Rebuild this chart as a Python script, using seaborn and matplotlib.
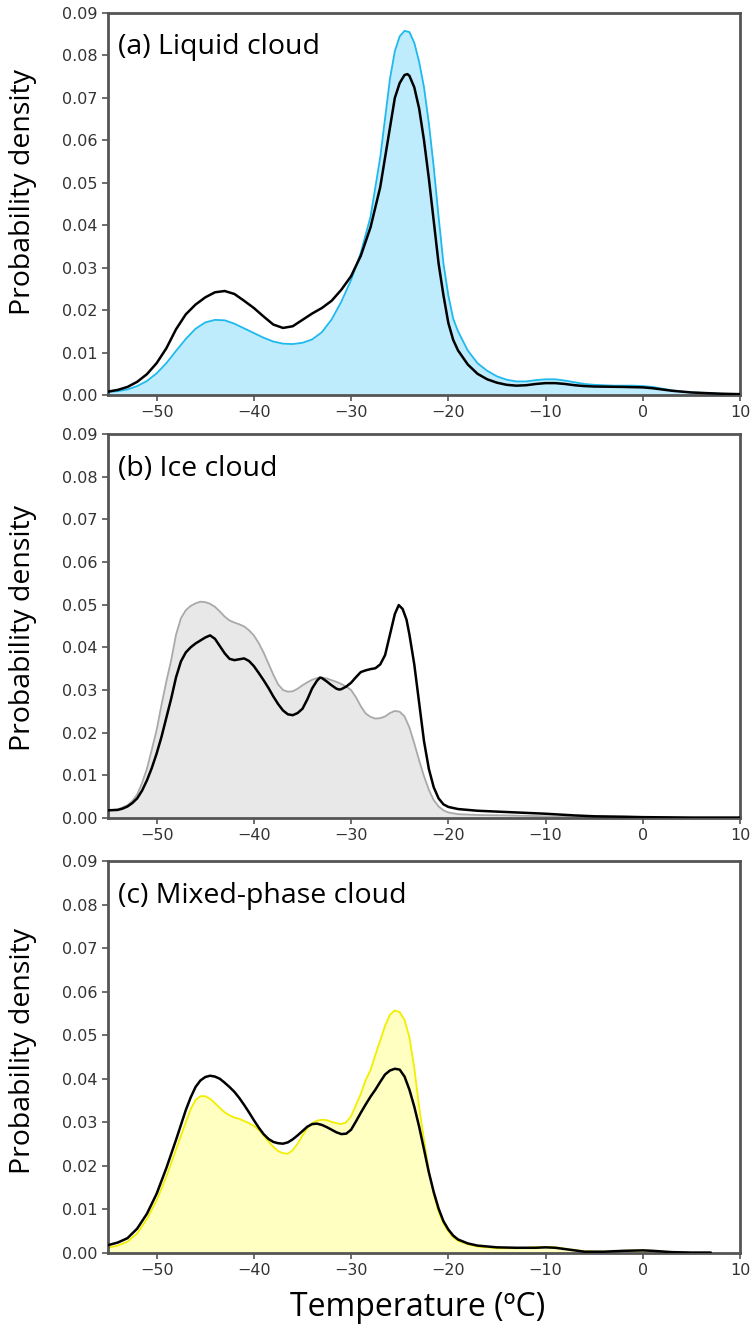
import numpy as np
import pandas as pd
import matplotlib
matplotlib.use("Agg")
import matplotlib.pyplot as plt
import seaborn as sns

# ---------------- data ----------------
# (a) Liquid cloud -- filled curve
liq_fill_T = [-55, -54, -53, -52, -51, -50, -49, -48, -47, -46, -45, -44, -43, -42, -41, -40, -39, -38, -37, -36,
              -35, -34, -33, -32, -31, -30, -29, -28, -27, -26, -25.5, -25, -24.5, -24, -23.5, -23, -22.5, -22,
              -21.5, -21, -20.5, -20, -19.5, -19, -18, -17, -16, -15, -14, -13, -12, -11, -10, -9, -8, -7, -6, -5,
              -3, -1, 0, 1, 2, 3, 4, 5, 6, 7, 8, 10]
liq_fill_P = [0.0007, 0.0009, 0.0013, 0.0021, 0.0033, 0.0051, 0.0075, 0.0104, 0.0132, 0.0156, 0.0171, 0.0177, 0.0176,
              0.0168, 0.0157, 0.0146, 0.0135, 0.0126, 0.0121, 0.0120, 0.0123, 0.0131, 0.0148, 0.0178, 0.0220, 0.0271,
              0.0335, 0.0420, 0.0560, 0.0745, 0.0810, 0.0845, 0.0858, 0.0855, 0.0830, 0.0785, 0.0725, 0.0640, 0.0537,
              0.0420, 0.0310, 0.0235, 0.0180, 0.0150, 0.0105, 0.0075, 0.0057, 0.0044, 0.0036, 0.0032, 0.0032, 0.0035,
              0.0037, 0.0037, 0.0034, 0.0030, 0.0026, 0.0024, 0.0022, 0.0022, 0.0021, 0.0019, 0.0015, 0.0011, 0.0008,
              0.0006, 0.0005, 0.0004, 0.0003, 0.0002]
# (a) Liquid cloud -- black curve
liq_line_T = [-55, -54, -53, -52, -51, -50, -49, -48, -47, -46, -45, -44, -43, -42, -41, -40, -39, -38, -37, -36,
              -35, -34, -33, -32, -31, -30, -29, -28, -27, -26, -25.5, -25, -24.5, -24.2, -24, -23.5, -23, -22.5,
              -22, -21.5, -21, -20.5, -20, -19.5, -19, -18, -17, -16, -15, -14, -13, -12, -11, -10, -9, -8, -7,
              -6, -5, -2, 0, 1, 2, 3, 4, 5, 6, 7, 8, 10]
liq_line_P = [0.0008, 0.0012, 0.0019, 0.0031, 0.0049, 0.0075, 0.0110, 0.0155, 0.0190, 0.0213, 0.0230, 0.0242, 0.0245,
              0.0238, 0.0222, 0.0205, 0.0185, 0.0166, 0.0158, 0.0162, 0.0177, 0.0192, 0.0205, 0.0222, 0.0248, 0.0280,
              0.0328, 0.0395, 0.0490, 0.0630, 0.0700, 0.0735, 0.0754, 0.0756, 0.0752, 0.0725, 0.0675, 0.0600, 0.0510,
              0.0410, 0.0310, 0.0235, 0.0170, 0.0130, 0.0105, 0.0072, 0.0050, 0.0037, 0.0029, 0.0024, 0.0022, 0.0023,
              0.0026, 0.0028, 0.0028, 0.0026, 0.0023, 0.0021, 0.0020, 0.0019, 0.0018, 0.0016, 0.0013, 0.0010, 0.0008,
              0.0006, 0.0005, 0.0004, 0.0003, 0.0002]

# (b) Ice cloud -- filled curve
ice_fill_T = [-55, -54, -53, -52.5, -52, -51.5, -51, -50.5, -50, -49.5, -49, -48.5, -48, -47.5, -47, -46.5, -46,
              -45.5, -45, -44.5, -44, -43.5, -43, -42.5, -42, -41.5, -41, -40.5, -40, -39.5, -39, -38.5, -38,
              -37.5, -37, -36.5, -36, -35.5, -35, -34.5, -34, -33.5, -33, -32.5, -32, -31.5, -31, -30.5, -30,
              -29.5, -29, -28.5, -28, -27.5, -27, -26.5, -26, -25.5, -25, -24.5, -24, -23.5, -23, -22.5, -22,
              -21.5, -21, -20.5, -20, -19, -17, -14, -10, -7, 0, 3]
ice_fill_P = [0.0018, 0.0020, 0.0030, 0.0040, 0.0055, 0.0082, 0.0115, 0.0160, 0.0206, 0.0265, 0.0320, 0.0370, 0.0430,
              0.0468, 0.0487, 0.0497, 0.0503, 0.0507, 0.0506, 0.0502, 0.0495, 0.0484, 0.0472, 0.0463, 0.0458, 0.0454,
              0.0449, 0.0440, 0.0428, 0.0410, 0.0388, 0.0362, 0.0336, 0.0313, 0.0300, 0.0296, 0.0297, 0.0303, 0.0311,
              0.0318, 0.0324, 0.0328, 0.0329, 0.0327, 0.0323, 0.0319, 0.0314, 0.0308, 0.0300, 0.0283, 0.0262, 0.0245,
              0.0237, 0.0233, 0.0234, 0.0238, 0.0246, 0.0251, 0.0249, 0.0238, 0.0212, 0.0175, 0.0135, 0.0098, 0.0066,
              0.0042, 0.0027, 0.0018, 0.0013, 0.0009, 0.0007, 0.0006, 0.0004, 0.0002, 0.0001, 0.0001]
# (b) Ice cloud -- black curve
ice_line_T = [-55, -54, -53.5, -53, -52.5, -52, -51.5, -51, -50.5, -50, -49.5, -49, -48.5, -48, -47.5, -47, -46.5,
              -46, -45.5, -45, -44.5, -44, -43.5, -43, -42.5, -42, -41.5, -41, -40.5, -40, -39.5, -39, -38.5, -38,
              -37.5, -37, -36.5, -36, -35.5, -35, -34.5, -34, -33.5, -33.2, -33, -32.5, -32, -31.5, -31.2, -31,
              -30.5, -30, -29.5, -29, -28.5, -28, -27.5, -27, -26.5, -26, -25.5, -25.1, -24.7, -24.3, -24, -23.5,
              -23, -22.5, -22, -21.5, -21, -20.5, -20, -19, -17, -15, -12, -10, -7, -5, -2, 0, 5, 10]
ice_line_P = [0.0018, 0.0019, 0.0022, 0.0027, 0.0035, 0.0046, 0.0064, 0.0088, 0.0117, 0.0151, 0.0190, 0.0235, 0.0280,
              0.0330, 0.0367, 0.0388, 0.0400, 0.0409, 0.0416, 0.0423, 0.0428, 0.0420, 0.0403, 0.0386, 0.0373, 0.0370,
              0.0372, 0.0374, 0.0368, 0.0356, 0.0340, 0.0323, 0.0305, 0.0285, 0.0267, 0.0252, 0.0243, 0.0241, 0.0246,
              0.0256, 0.0278, 0.0304, 0.0322, 0.0329, 0.0328, 0.0320, 0.0311, 0.0303, 0.0301, 0.0302, 0.0308, 0.0317,
              0.0330, 0.0342, 0.0346, 0.0349, 0.0351, 0.0360, 0.0382, 0.0430, 0.0478, 0.0499, 0.0490, 0.0465, 0.0430,
              0.0360, 0.0270, 0.0180, 0.0115, 0.0072, 0.0046, 0.0032, 0.0026, 0.0021, 0.0017, 0.0015, 0.0012, 0.0010,
              0.0006, 0.0004, 0.0003, 0.0002, 0.0001, 0.0001]

# (c) Mixed-phase cloud -- filled curve
mix_fill_T = [-55, -54, -53, -52, -51, -50, -49, -48, -47, -46.5, -46, -45.5, -45, -44.5, -44, -43.5, -43, -42.5,
              -42, -41.5, -41, -40.5, -40, -39.5, -39, -38.5, -38, -37.5, -37, -36.5, -36, -35.5, -35, -34.5, -34,
              -33.5, -33, -32.5, -32, -31.5, -31, -30.5, -30, -29.5, -29, -28.5, -28, -27.5, -27, -26.5, -26, -25.5,
              -25, -24.5, -24, -23.5, -23, -22.5, -22, -21.5, -21, -20.5, -20, -19.5, -19, -18, -17, -15, -13, -11,
              -10, -9, -8, -7, -6, -4, -2, 0, 1, 2, 4]
mix_fill_P = [0.0012, 0.0017, 0.0026, 0.0045, 0.0078, 0.0121, 0.0175, 0.0238, 0.0300, 0.0330, 0.0351, 0.0360, 0.0360,
              0.0354, 0.0344, 0.0333, 0.0323, 0.0316, 0.0311, 0.0308, 0.0303, 0.0298, 0.0292, 0.0283, 0.0270, 0.0256,
              0.0244, 0.0234, 0.0229, 0.0228, 0.0236, 0.0251, 0.0270, 0.0287, 0.0298, 0.0304, 0.0306, 0.0305, 0.0301,
              0.0298, 0.0296, 0.0300, 0.0314, 0.0340, 0.0365, 0.0397, 0.0420, 0.0455, 0.0488, 0.0522, 0.0547, 0.0557,
              0.0553, 0.0535, 0.0495, 0.0425, 0.0335, 0.0260, 0.0190, 0.0135, 0.0095, 0.0068, 0.0050, 0.0036, 0.0028,
              0.0020, 0.0015, 0.0011, 0.0011, 0.0013, 0.0014, 0.0013, 0.0010, 0.0007, 0.0004, 0.0003, 0.0005, 0.0006,
              0.0005, 0.0003, 0.0001]
# (c) Mixed-phase cloud -- black curve
mix_line_T = [-55, -54, -53, -52, -51, -50, -49, -48, -47, -46.5, -46, -45.5, -45, -44.5, -44, -43.5, -43, -42.5,
              -42, -41.5, -41, -40.5, -40, -39.5, -39, -38.5, -38, -37.5, -37, -36.5, -36, -35.5, -35, -34.5, -34,
              -33.5, -33, -32.5, -32, -31.5, -31, -30.5, -30, -29.5, -29, -28.5, -28, -27.5, -27, -26.5, -26, -25.5,
              -25, -24.5, -24, -23.5, -23, -22.5, -22, -21.5, -21, -20.5, -20, -19.5, -19, -18, -17, -15, -13, -11,
              -10, -9, -8, -7, -6, -4, -2, 0, 1, 3, 5, 7]
mix_line_P = [0.0018, 0.0024, 0.0034, 0.0056, 0.0090, 0.0136, 0.0195, 0.0260, 0.0328, 0.0357, 0.0381, 0.0396, 0.0404,
              0.0407, 0.0405, 0.0400, 0.0391, 0.0381, 0.0370, 0.0356, 0.0340, 0.0323, 0.0305, 0.0288, 0.0273, 0.0262,
              0.0255, 0.0252, 0.0251, 0.0254, 0.0261, 0.0270, 0.0280, 0.0290, 0.0296, 0.0297, 0.0294, 0.0289, 0.0283,
              0.0277, 0.0273, 0.0274, 0.0283, 0.0302, 0.0322, 0.0341, 0.0359, 0.0375, 0.0393, 0.0410, 0.0419, 0.0423,
              0.0421, 0.0405, 0.0375, 0.0336, 0.0290, 0.0238, 0.0185, 0.0140, 0.0102, 0.0073, 0.0054, 0.0040, 0.0031,
              0.0022, 0.0017, 0.0013, 0.0012, 0.0012, 0.0013, 0.0012, 0.0009, 0.0006, 0.0003, 0.0003, 0.0005, 0.0006,
              0.0005, 0.0002, 0.0001, 0.0001]

panel_titles = ["(a) Liquid cloud", "(b) Ice cloud", "(c) Mixed-phase cloud"]
x_ticks = [-50, -40, -30, -20, -10, 0, 10]
y_ticks = [0.00, 0.01, 0.02, 0.03, 0.04, 0.05, 0.06, 0.07, 0.08, 0.09]
x_label = "Temperature (ºC)"
y_label = "Probability density"

# ---------------- style ----------------
sns.set_style("white")
plt.rcParams["font.family"] = ["DejaVu Sans"]
label_font = ["Open Sans", "DejaVu Sans"]

panels = [
    (liq_fill_T, liq_fill_P, liq_line_T, liq_line_P, "#BEECFC", "#1FB9EE"),
    (ice_fill_T, ice_fill_P, ice_line_T, ice_line_P, "#E8E8E8", "#A9A9A9"),
    (mix_fill_T, mix_fill_P, mix_line_T, mix_line_P, "#FFFFC2", "#F2EE00"),
]

fig = plt.figure(figsize=(7.52, 13.28), dpi=100)
left, width = 108 / 752, 632 / 752
boxes = [(13, 395), (434, 818), (861, 1253)]
ylab_y = [0.531, 0.496, 0.515]

for i, ((fT, fP, lT, lP, fc, ec), (top, bot)) in enumerate(zip(panels, boxes)):
    ax = fig.add_axes([left, 1 - bot / 1328, width, (bot - top) / 1328])
    ax.fill_between(fT, fP, 0, color=fc, lw=0, zorder=1)
    dfF = pd.DataFrame({"T": fT, "P": fP})
    sns.lineplot(data=dfF, x="T", y="P", ax=ax, color=ec, lw=1.3, zorder=2,
                 solid_joinstyle="round", solid_capstyle="round")
    dfL = pd.DataFrame({"T": lT, "P": lP})
    sns.lineplot(data=dfL, x="T", y="P", ax=ax, color="#000000", lw=1.8, zorder=3,
                 solid_joinstyle="round", solid_capstyle="round")
    ax.set_xlim(-55, 10)
    ax.set_ylim(0, 0.09)
    ax.set_xticks(x_ticks)
    ax.set_xticklabels([f"{t:d}".replace("-", "\u2212") for t in x_ticks])
    ax.set_yticks(y_ticks)
    ax.set_yticklabels([f"{t:.2f}" for t in y_ticks])
    ax.tick_params(axis="both", direction="out", length=4.5, width=1.2, color="#555555",
                   labelsize=11.5, labelcolor="#333333", pad=3, bottom=True, left=True)
    for s in ax.spines.values():
        s.set_color("#555555")
        s.set_linewidth(2.0)
    ax.set_xlabel("")
    ax.set_ylabel(y_label, fontsize=20.5, family=label_font, color="black")
    ax.yaxis.set_label_coords(-0.113, ylab_y[i])
    ax.text(0.016, 0.91, panel_titles[i], transform=ax.transAxes, fontsize=20.5,
            family=label_font, va="center", ha="left", color="black")
    if i == 2:
        ax.set_xlabel(x_label, fontsize=23, family=label_font, color="black")
        ax.xaxis.set_label_coords((418 - 108) / 632, -0.098)

fig.savefig("out.png", dpi=100)
